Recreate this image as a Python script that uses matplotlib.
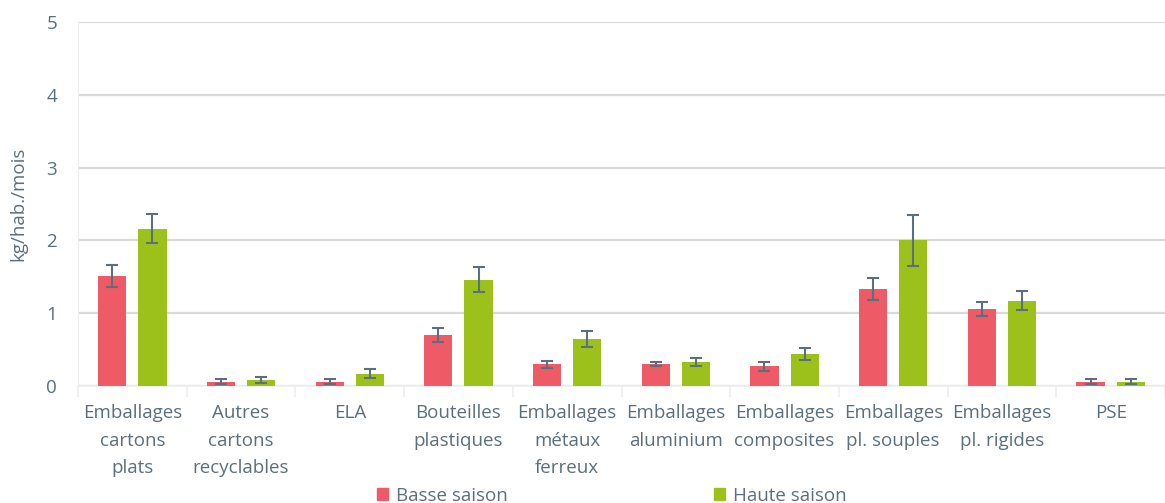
import matplotlib
matplotlib.use("Agg")
import matplotlib.pyplot as plt
from matplotlib.patches import Patch
import numpy as np

categories = ["Emballages\ncartons\nplats", "Autres\ncartons\nrecyclables", "ELA",
              "Bouteilles\nplastiques", "Emballages\nmétaux\nferreux", "Emballages\naluminium",
              "Emballages\ncomposites", "Emballages\npl. souples", "Emballages\npl. rigides", "PSE"]
basse = [1.51, 0.06, 0.06, 0.70, 0.30, 0.30, 0.27, 1.33, 1.06, 0.06]
basse_err = [0.15, 0.03, 0.03, 0.09, 0.05, 0.03, 0.06, 0.15, 0.10, 0.03]
haute = [2.16, 0.08, 0.17, 1.46, 0.65, 0.33, 0.44, 2.00, 1.17, 0.06]
haute_err = [0.20, 0.04, 0.06, 0.17, 0.11, 0.06, 0.08, 0.35, 0.13, 0.03]
series_names = ["Basse saison", "Haute saison"]

RED = "#EE5A66"
GREEN = "#9DC11B"
TXT = "#5B6F7E"
ERR = "#5B6F7E"
GRID = "#D9D9D9"

plt.rcParams['font.family'] = ['Open Sans', 'DejaVu Sans']

fig = plt.figure(figsize=(11.65, 5.03), dpi=100)
ax = fig.add_axes([78/1165, 1-386/503, 1-78/1165, (386-22)/503])

x = np.arange(len(categories))
w = 0.26
off = 0.185
ax.bar(x - off, basse, w, color=RED, zorder=3)
ax.bar(x + off, haute, w, color=GREEN, zorder=3)
ekw = dict(fmt='none', ecolor=ERR, elinewidth=1.5, capsize=4, capthick=1.5, zorder=4)
ax.errorbar(x - off, basse, yerr=basse_err, **ekw)
ax.errorbar(x + off, haute, yerr=haute_err, **ekw)

ax.set_xlim(-0.5, len(categories) - 0.5)
ax.set_ylim(0, 5)
ax.set_yticks([0, 1, 2, 3, 4, 5])
ax.yaxis.grid(True, color=GRID, linewidth=1.6, zorder=0)
ax.set_axisbelow(True)
for s in ['top', 'right']:
    ax.spines[s].set_visible(False)
ax.spines['left'].set_color('#EEEEEE')
ax.spines['bottom'].set_color('#EEEEEE')
ax.spines['bottom'].set_linewidth(1.2)

ax.set_xticks(x)
ax.set_xticklabels(categories, fontsize=13.5, color=TXT, linespacing=1.68)
ax.tick_params(axis='x', length=0, pad=13)
ax.set_xticks(np.arange(len(categories) + 1) - 0.5, minor=True)
ax.tick_params(axis='x', which='minor', length=8, color='#EEEEEE', width=1.2)
ax.tick_params(axis='y', length=0, labelsize=13.5, labelcolor=TXT, pad=15)
ax.set_ylabel("kg/hab./mois", fontsize=13.5, color=TXT, labelpad=14)

handles = [Patch(color=RED), Patch(color=GREEN)]
fig.legend(handles, series_names, loc='center', bbox_to_anchor=(0.525, 0.014), ncol=2,
           frameon=False, fontsize=13.5, labelcolor=TXT, handlelength=0.6, handleheight=0.6,
           handletextpad=0.4, columnspacing=11.0)

fig.savefig("out.png", dpi=100)
